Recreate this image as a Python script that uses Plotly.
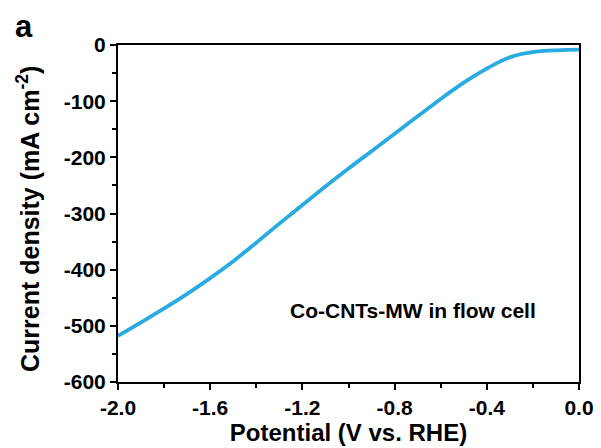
import plotly.graph_objects as go

potential = [-2.0, -1.9, -1.8, -1.7, -1.6, -1.5, -1.4, -1.3, -1.2, -1.1, -1.0,
             -0.9, -0.8, -0.7, -0.6, -0.5, -0.45, -0.4, -0.35, -0.3, -0.25,
             -0.2, -0.15, -0.1, -0.05, 0.0]
current = [-518, -494, -469, -443, -415, -385, -352, -318, -285, -252, -220,
           -189, -158, -127, -96, -67, -54, -42, -31, -22, -16,
           -12.5, -10.5, -9.5, -8.8, -8.3]

x_ticks = [-2.0, -1.6, -1.2, -0.8, -0.4, 0.0]
x_labels = ["-2.0", "-1.6", "-1.2", "-0.8", "-0.4", "0.0"]
y_ticks = [0, -100, -200, -300, -400, -500, -600]
y_labels = ["0", "-100", "-200", "-300", "-400", "-500", "-600"]

FONT = "Liberation Sans, Arial, sans-serif"
L, R, T, B = 118, 22, 45, 66
PW, PH = 601 - L - R, 448 - T - B

fig = go.Figure()
fig.add_trace(go.Scatter(
    x=potential, y=current, mode="lines",
    line=dict(color="#29ABE2", width=3.8, shape="spline", smoothing=1.0),
    showlegend=False, hoverinfo="skip",
))

axis_common = dict(
    showline=True, linecolor="black", linewidth=2, mirror=True,
    ticks="outside", ticklen=6, tickwidth=2, tickcolor="black",
    showgrid=False, zeroline=False,
    tickfont=dict(family=FONT, size=21, color="black", weight="bold"),
    tickmode="array",
)

fig.update_xaxes(
    range=[-2.0, 0.0], tickvals=x_ticks, ticktext=x_labels,
    minor=dict(tickmode="linear", tick0=0, dtick=0.2, ticks="outside",
               ticklen=4, tickwidth=2, tickcolor="black"),
    title=dict(text="Potential (V vs. RHE)", standoff=4,
               font=dict(family=FONT, size=24, color="black", weight="bold")),
    **axis_common,
)
fig.update_yaxes(
    range=[-600, 0], tickvals=y_ticks, ticktext=y_labels,
    minor=dict(tickmode="linear", tick0=0, dtick=50, ticks="outside",
               ticklen=4, tickwidth=2, tickcolor="black"),
    **axis_common,
)

# y-axis title (positioned precisely)
fig.add_annotation(
    x=(28 - L) / PW, y=(448 - B - 219) / PH, xref="paper", yref="paper",
    text="Current density (mA cm<sup>-2</sup>)", textangle=-90,
    showarrow=False, xanchor="center", yanchor="middle",
    font=dict(family=FONT, size=25, color="black", weight="bold"),
)
fig.add_annotation(
    x=-0.72, y=-472, xref="x", yref="y", text="Co-CNTs-MW in flow cell",
    showarrow=False, font=dict(family=FONT, size=21, color="black", weight="bold"),
)
fig.add_annotation(
    x=(24 - L) / PW, y=1 + (T - 27) / PH, xref="paper", yref="paper",
    text="a", showarrow=False, xanchor="center", yanchor="middle",
    font=dict(family=FONT, size=31, color="black", weight="bold"),
)

fig.update_layout(
    width=601, height=448,
    margin=dict(l=L, r=R, t=T, b=B, autoexpand=False),
    paper_bgcolor="white", plot_bgcolor="white",
)

fig.write_html("out.html")
